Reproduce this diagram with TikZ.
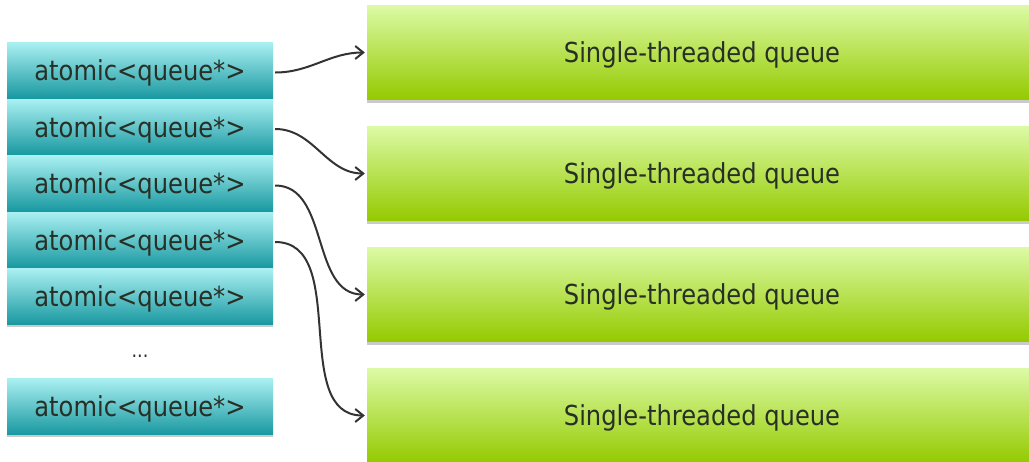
\documentclass[tikz,border=0pt]{standalone}
\usepackage{fontspec}
\setmainfont{DejaVu Sans}[FakeStretch=0.88]
\usetikzlibrary{arrows.meta,shadows}
\definecolor{tealtop}{RGB}{170,240,242}
\definecolor{tealbot}{RGB}{24,152,160}
\definecolor{limetop}{RGB}{220,250,165}
\definecolor{limebot}{RGB}{148,202,0}
\definecolor{txtgrey}{RGB}{40,48,38}
\tikzset{
  atom/.style={minimum width=266pt, minimum height=56pt, inner sep=0pt, text depth=0pt,
    top color=tealtop, bottom color=tealbot, text=txtgrey,
    font=\fontsize{27.5}{30}\selectfont,
    drop shadow={shadow xshift=0pt, shadow yshift=-2pt, opacity=0.35, fill=black!60}},
  stq/.style={minimum width=670pt, minimum height=94pt, inner sep=0pt, text depth=0pt,
    top color=limetop, bottom color=limebot, text=txtgrey,
    font=\fontsize{27.5}{30}\selectfont,
    drop shadow={shadow xshift=0pt, shadow yshift=-3pt, opacity=0.35, fill=black!60}},
  link/.style={draw=black!80, line width=2pt, out=0, in=180, shorten <=2pt, shorten >=2pt,
    -{Straight Barb[length=8pt,width=13pt]}}
}
\begin{document}
\begin{tikzpicture}[x=1pt,y=-1pt]
    \useasboundingbox (0,0) rectangle (1029,461);
    \clip (0,0) rectangle (1029,461);
    \node[stq] (q1) at (702,52.5) {Single-threaded queue};
    \node[stq] (q2) at (702,173.5) {Single-threaded queue};
    \node[stq] (q3) at (702,294.5) {Single-threaded queue};
    \node[stq] (q4) at (702,415.5) {Single-threaded queue};
    \node[atom] (a1) at (140,70.5) {atomic<queue*>};
    \node[atom] (a2) at (140,127) {atomic<queue*>};
    \node[atom] (a3) at (140,183.5) {atomic<queue*>};
    \node[atom] (a4) at (140,240) {atomic<queue*>};
    \node[atom] (a5) at (140,296.5) {atomic<queue*>};
    \node[text=txtgrey, font=\fontsize{20}{22}\selectfont] (dots) at (140,356) {...};
    \node[atom] (a7) at (140,406.5) {atomic<queue*>};
    \draw[link] ([yshift=-2pt]a1.east) to (q1.west);
    \draw[link] ([yshift=-2pt]a2.east) to (q2.west);
    \draw[link] ([yshift=-2pt]a3.east) to (q3.west);
    \draw[link] ([yshift=-2pt]a4.east) to (q4.west);
\end{tikzpicture}
\end{document}
